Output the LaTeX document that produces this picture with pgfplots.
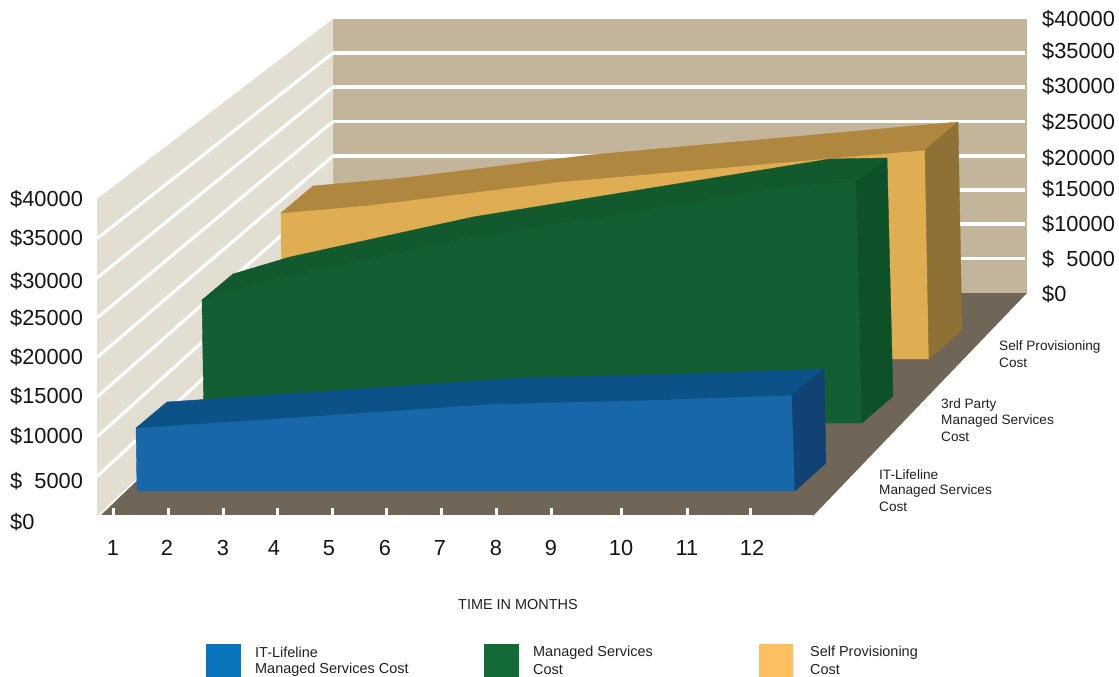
\documentclass[border=0pt]{standalone}
\usepackage{pgfplots}
\usepackage{fontspec}
\setmainfont{Liberation Sans}
\pgfplotsset{compat=1.18}
\definecolor{wallback}{HTML}{C2B59B}
\definecolor{wallside}{HTML}{E3DED2}
\definecolor{floorc}{HTML}{6F6658}
\definecolor{bluefront}{HTML}{1868A9}
\definecolor{bluetop}{HTML}{0A5287}
\definecolor{blueside}{HTML}{124173}
\definecolor{greenfront}{HTML}{135E32}
\definecolor{greentop}{HTML}{125A2E}
\definecolor{greenside}{HTML}{0E5027}
\definecolor{yellowfront}{HTML}{DFAD52}
\definecolor{yellowtop}{HTML}{AF873F}
\definecolor{yellowside}{HTML}{8F7035}
\definecolor{legblue}{HTML}{0A74BC}
\definecolor{leggreen}{HTML}{126A39}
\definecolor{legyellow}{HTML}{FDBF60}
\newcommand{\valuefont}{\fontsize{21.8}{24}\selectfont}
\newcommand{\notefont}{\fontsize{13.6}{16}\selectfont}
\newcommand{\legendfont}{\fontsize{14.45}{16}\selectfont}
\begin{document}
\begin{tikzpicture}[x=1pt,y=1pt,
  grid line/.style={draw=white, line width=3.2pt},
  face/.style={draw=#1, fill=#1, line width=0.4pt},
  lab/.style={inner sep=0pt, anchor=west, font=\valuefont, text=black!92},
  note/.style={inner sep=0pt, anchor=west, font=\notefont, text=black!88},
  legtext/.style={inner sep=0pt, anchor=west, font=\legendfont, text=black!88}]
\path[use as bounding box] (0,0) rectangle (1119,677);
\begin{axis}[
  at={(0,0)}, anchor=south west,
  scale only axis, width=1119pt, height=677pt,
  xmin=0, xmax=1119, ymin=0, ymax=677,
  y dir=reverse, hide axis, clip=false,
]
% walls and floor
\addplot[draw=none, fill=wallback] coordinates {(333,19) (1027,19) (1027,293) (333,293)} -- cycle;
\addplot[draw=none, fill=wallside] coordinates {(97,199) (333,19) (333,293) (97,516)} -- cycle;
% value gridlines, $5000 apart, on the back wall
\addplot[grid line] coordinates {(333,53) (1025,53)};
\addplot[grid line] coordinates {(333,87) (1025,87)};
\addplot[grid line] coordinates {(333,121.5) (1025,121.5)};
\addplot[grid line] coordinates {(333,156) (1025,156)};
\addplot[grid line] coordinates {(333,190) (1025,190)};
\addplot[grid line] coordinates {(333,224) (1025,224)};
\addplot[grid line] coordinates {(333,258.5) (1025,258.5)};
% and on the side wall
\addplot[grid line] coordinates {(97,238.6) (333,53)};
\addplot[grid line] coordinates {(97,278) (333,87)};
\addplot[grid line] coordinates {(97,318) (333,121.5)};
\addplot[grid line] coordinates {(97,357.5) (333,156)};
\addplot[grid line] coordinates {(97,397) (333,190)};
\addplot[grid line] coordinates {(97,437) (333,224)};
\addplot[grid line] coordinates {(97,476.5) (333,258.5)};
\addplot[draw=none, fill=floorc] coordinates {(100,516) (333,293) (1027,293) (813,516)} -- cycle;
\addplot[draw=white, line width=1.5pt] coordinates {(98,516) (813,516)};
% month ticks
\addplot[draw=white, line width=3pt] coordinates {(113,508) (113,516)};
\addplot[draw=white, line width=3pt] coordinates {(168,508) (168,516)};
\addplot[draw=white, line width=3pt] coordinates {(223,508) (223,516)};
\addplot[draw=white, line width=3pt] coordinates {(277.5,508) (277.5,516)};
\addplot[draw=white, line width=3pt] coordinates {(332,508) (332,516)};
\addplot[draw=white, line width=3pt] coordinates {(386.5,508) (386.5,516)};
\addplot[draw=white, line width=3pt] coordinates {(441.5,508) (441.5,516)};
\addplot[draw=white, line width=3pt] coordinates {(496,508) (496,516)};
\addplot[draw=white, line width=3pt] coordinates {(551,508) (551,516)};
\addplot[draw=white, line width=3pt] coordinates {(621,508) (621,516)};
\addplot[draw=white, line width=3pt] coordinates {(687,508) (687,516)};
\addplot[draw=white, line width=3pt] coordinates {(750,508) (750,516)};
% self provisioning cost
\addplot[face=yellowfront] coordinates {(281,213) (371,205) (558,182) (925,150) (929,359) (282,359)} -- cycle;
\addplot[face=yellowtop] coordinates {(281,213) (313,186) (403,178) (590,155) (958,122) (925,150) (558,182) (371,205)} -- cycle;
\addplot[face=yellowside] coordinates {(925,150) (958,122) (962,330) (929,359)} -- cycle;
% managed services cost
\addplot[face=greenfront] coordinates {(202,300) (259,283) (442,243) (799,185) (856,183) (862,423) (204,423)} -- cycle;
\addplot[face=greentop] coordinates {(202,300) (233,274) (290,257) (473,217) (830,159) (887,158) (856,183) (799,185) (442,243) (259,283)} -- cycle;
\addplot[face=greenside] coordinates {(856,183) (887,158) (893,396) (862,423)} -- cycle;
% IT-Lifeline managed services cost
\addplot[face=bluefront] coordinates {(136,428) (490,404) (650,400) (792,395) (795,491) (137,491)} -- cycle;
\addplot[face=bluetop] coordinates {(136,428) (167,402) (521,378) (681,374) (824,369) (792,395) (650,400) (490,404)} -- cycle;
\addplot[face=blueside] coordinates {(792,395) (824,369) (826,463) (795,491)} -- cycle;
% legend swatches
\addplot[draw=none, fill=legblue] coordinates {(206,644) (241,644) (241,677) (206,677)} -- cycle;
\addplot[draw=none, fill=leggreen] coordinates {(484,644) (519,644) (519,677) (484,677)} -- cycle;
\addplot[draw=none, fill=legyellow] coordinates {(759,644) (793,644) (793,677) (759,677)} -- cycle;
% value labels
\node[lab] at (axis cs:10,199) {\$40000};
\node[lab] at (axis cs:10,238) {\$35000};
\node[lab] at (axis cs:10,281) {\$30000};
\node[lab] at (axis cs:10,318) {\$25000};
\node[lab] at (axis cs:10,357) {\$20000};
\node[lab] at (axis cs:10,396) {\$15000};
\node[lab] at (axis cs:10,436) {\$10000};
\node[lab] at (axis cs:10,481) {\$\hspace{0.556em}5000};
\node[lab] at (axis cs:10,522) {\$0};
\node[lab] at (axis cs:1042,19) {\$40000};
\node[lab] at (axis cs:1042,51) {\$35000};
\node[lab] at (axis cs:1042,86) {\$30000};
\node[lab] at (axis cs:1042,122) {\$25000};
\node[lab] at (axis cs:1042,158) {\$20000};
\node[lab] at (axis cs:1042,189) {\$15000};
\node[lab] at (axis cs:1042,224) {\$10000};
\node[lab] at (axis cs:1042,259) {\$\hspace{0.556em}5000};
\node[lab] at (axis cs:1042,294) {\$0};
% month labels
\node[lab,anchor=center] at (axis cs:113,548) {1};
\node[lab,anchor=center] at (axis cs:167,548) {2};
\node[lab,anchor=center] at (axis cs:223,548) {3};
\node[lab,anchor=center] at (axis cs:274,548) {4};
\node[lab,anchor=center] at (axis cs:329,548) {5};
\node[lab,anchor=center] at (axis cs:385,548) {6};
\node[lab,anchor=center] at (axis cs:440,548) {7};
\node[lab,anchor=center] at (axis cs:496,548) {8};
\node[lab,anchor=center] at (axis cs:551,548) {9};
\node[lab,anchor=center] at (axis cs:621,548) {10};
\node[lab,anchor=center] at (axis cs:687,548) {11};
\node[lab,anchor=center] at (axis cs:752,548) {12};
\node[legtext,anchor=center] at (axis cs:518,605) {TIME IN MONTHS};
% series names along the floor
\node[note] at (axis cs:879,475) {IT-Lifeline};
\node[note] at (axis cs:879,491) {Managed Services};
\node[note] at (axis cs:879,507) {Cost};
\node[note] at (axis cs:941,405) {3rd Party};
\node[note] at (axis cs:941,421) {Managed Services};
\node[note] at (axis cs:941,437) {Cost};
\node[note] at (axis cs:999,347) {Self Provisioning};
\node[note] at (axis cs:999,363) {Cost};
% legend text
\node[legtext] at (axis cs:255,652) {IT-Lifeline};
\node[legtext] at (axis cs:255,670) {Managed Services Cost};
\node[legtext] at (axis cs:533,653) {Managed Services};
\node[legtext] at (axis cs:533,670) {Cost};
\node[legtext] at (axis cs:810,653) {Self Provisioning};
\node[legtext] at (axis cs:810,670) {Cost};
\end{axis}
\end{tikzpicture}
\end{document}
